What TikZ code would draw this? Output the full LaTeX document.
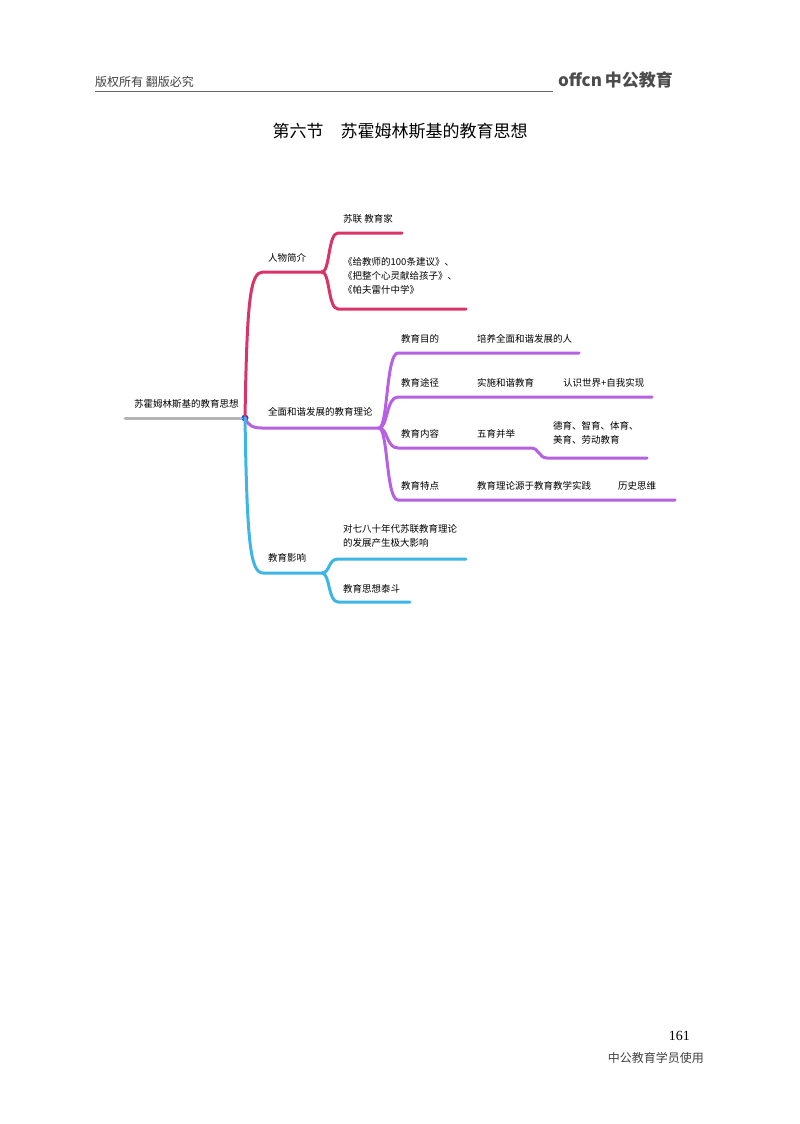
\documentclass[tikz,border=0pt]{standalone}
\usepackage{fontspec}
\setmainfont{Liberation Serif}
\newfontfamily\cjk{Noto Sans CJK SC}
\definecolor{cred}{HTML}{D83468}
\definecolor{cpur}{HTML}{B660E2}
\definecolor{cblu}{HTML}{3DB6E6}
\definecolor{cgray}{HTML}{B4B4B4}
\begin{document}
\begin{tikzpicture}[x=1pt,y=-1pt,
  lbl/.style={anchor=west,inner sep=0pt,font=\cjk\fontsize{9.5}{14}\selectfont,align=left},
  br/.style={line width=3pt,line cap=round}]
\useasboundingbox (0,0) rectangle (800,1124);
% header
\node[anchor=west,inner sep=0pt,font=\cjk\fontsize{12}{14}\selectfont,text=black!75] (hdr) at (95,82) {版权所有\ 翻版必究};
\coordinate (hl1) at (95,91); \coordinate (hl2) at (553,91);
\draw[black!60,line width=0.8pt] (hl1) -- (hl2);
\node[anchor=west,inner sep=0pt,font=\cjk\bfseries\fontsize{17}{18}\selectfont,text=black!70] (logo) at (558,80) {offcn\,中公教育};
\node[inner sep=0pt,font=\cjk\fontsize{17}{20}\selectfont] (title) at (400,131) {第六节\quad 苏霍姆林斯基的教育思想};
% root
\coordinate (r0) at (125,418);
\node[circle,fill=blue!70!cyan,inner sep=0pt,minimum size=7pt] (dot) at (245,418) {};
\draw[cgray,br] (r0) -- (dot);
\node[lbl] (root) at (134,404) {苏霍姆林斯基的教育思想};
% red
\coordinate (a1) at (263,272); \coordinate (a2) at (322,272);
\draw[cred,br] (dot.center) .. controls (247,300) and (250,272) .. (a1) -- (a2);
\node[lbl] (ta) at (268,258) {人物简介};
\coordinate (a11) at (338,233); \coordinate (a12) at (402,233);
\draw[cred,br] (a2) .. controls (330,272) and (328,233) .. (a11) -- (a12);
\node[lbl] (ta1) at (343,219) {苏联 教育家};
\coordinate (a21) at (338,309); \coordinate (a22) at (466,309);
\draw[cred,br] (a2) .. controls (330,272) and (328,309) .. (a21) -- (a22);
\node[lbl,anchor=north west] (ta2) at (343,257) {《给教师的100条建议》、\\《把整个心灵献给孩子》、\\《帕夫雷什中学》};
% purple
\coordinate (b1) at (262,428); \coordinate (b2) at (379,428);
\draw[cpur,br] (dot.center) .. controls (248,425) and (252,428) .. (b1) -- (b2);
\node[lbl] (tb) at (268,412) {全面和谐发展的教育理论};
\coordinate (b11) at (398,353); \coordinate (b12) at (579,353);
\coordinate (b21) at (398,397); \coordinate (b22) at (652,397);
\coordinate (b31) at (398,448); \coordinate (b32) at (531,448);
\coordinate (b33) at (547,458); \coordinate (b34) at (647,458);
\coordinate (b41) at (398,500); \coordinate (b42) at (675,500);
\draw[cpur,br] (b2) .. controls (388,428) and (386,353) .. (b11) -- (b12);
\draw[cpur,br] (b2) .. controls (388,428) and (386,397) .. (b21) -- (b22);
\draw[cpur,br] (b2) .. controls (388,428) and (386,448) .. (b31) -- (b32) .. controls (539,448) and (539,458) .. (b33) -- (b34);
\draw[cpur,br] (b2) .. controls (388,428) and (386,500) .. (b41) -- (b42);
\node[lbl] (t11) at (401,339) {教育目的};
\node[lbl] (t12) at (477,339) {培养全面和谐发展的人};
\node[lbl] (t21) at (401,383) {教育途径};
\node[lbl] (t22) at (477,383) {实施和谐教育};
\node[lbl] (t23) at (563,383) {认识世界+自我实现};
\node[lbl] (t31) at (401,434) {教育内容};
\node[lbl] (t32) at (477,434) {五育并举};
\node[lbl] (t33) at (553,433) {德育、智育、体育、\\美育、劳动教育};
\node[lbl] (t41) at (401,486) {教育特点};
\node[lbl] (t42) at (477,486) {教育理论源于教育教学实践};
\node[lbl] (t43) at (618,486) {历史思维};
% blue
\coordinate (c1) at (263,573); \coordinate (c2) at (322,573);
\draw[cblu,br] (dot.center) .. controls (247,540) and (250,573) .. (c1) -- (c2);
\node[lbl] (tc) at (268,558) {教育影响};
\coordinate (c11) at (338,559); \coordinate (c12) at (466,559);
\coordinate (c21) at (338,602); \coordinate (c22) at (410,602);
\draw[cblu,br] (c2) .. controls (330,573) and (328,559) .. (c11) -- (c12);
\draw[cblu,br] (c2) .. controls (330,573) and (328,602) .. (c21) -- (c22);
\node[lbl] (tc1) at (343,536) {对七八十年代苏联教育理论\\的发展产生极大影响};
\node[lbl] (tc2) at (343,589) {教育思想泰斗};
\node[lbl] at (c1) {};
% footer
\node[anchor=east,inner sep=0pt,font=\fontsize{14}{16}\selectfont] (pg) at (690,1036) {161};
\node[anchor=east,inner sep=0pt,font=\cjk\fontsize{12}{14}\selectfont,text=black!75] (ft) at (704,1058) {中公教育学员使用};
\end{tikzpicture}
\end{document}
